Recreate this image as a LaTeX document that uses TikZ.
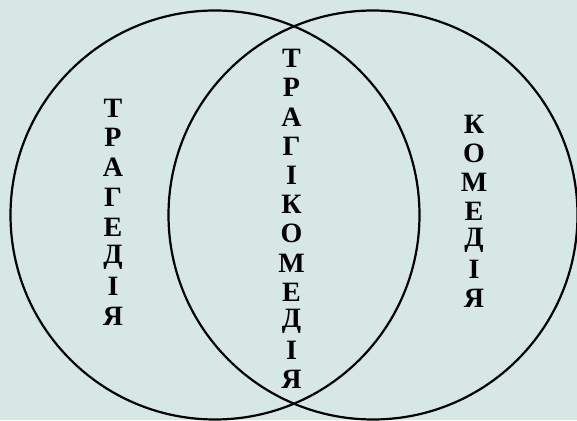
\documentclass[tikz,border=0pt]{standalone}
\usepackage{fontspec}
\setmainfont{Liberation Serif}

\begin{document}
\begin{tikzpicture}[x=1pt, y=1pt,
    letter/.style={font=\fontsize{28}{28}\selectfont\bfseries, inner sep=0pt}]
    % Define circle size
    \def\radius{204.5}

    \definecolor{borderColour}{HTML}{000000}
    \definecolor{paperColour}{HTML}{D6E7E6}

    % Paper background
    \fill[paperColour] (0,0) rectangle (577,420);
    \useasboundingbox (0,0) rectangle (577,420);

    % Define the centres of the circles
    \coordinate (leftCentre) at (215,205);
    \coordinate (rightCentre) at (373,205);

    % Draw the circles
    \begin{scope}
        \clip (0,0) rectangle (577,420);
        \draw[draw=borderColour, line width=2.2pt] (leftCentre) circle (\radius);
        \draw[draw=borderColour, line width=2.2pt] (rightCentre) circle (\radius);
    \end{scope}

    % Letters of each word, top to bottom
    \foreach \l [count=\i] in {Т,Р,А,Г,Е,Д,І,Я}
        \node[letter] (trag\i) at (113, 312-29.8*\i+29.8) {\l};
    \foreach \l [count=\i] in {Т,Р,А,Г,І,К,О,М,Е,Д,І,Я}
        \node[letter] (tragikom\i) at (291.5, 361.5-29.2*\i+29.2) {\l};
    \foreach \l [count=\i] in {К,О,М,Е,Д,І,Я}
        \node[letter] (kom\i) at (474, 296-29.1*\i+29.1) {\l};

\end{tikzpicture}
\end{document}
